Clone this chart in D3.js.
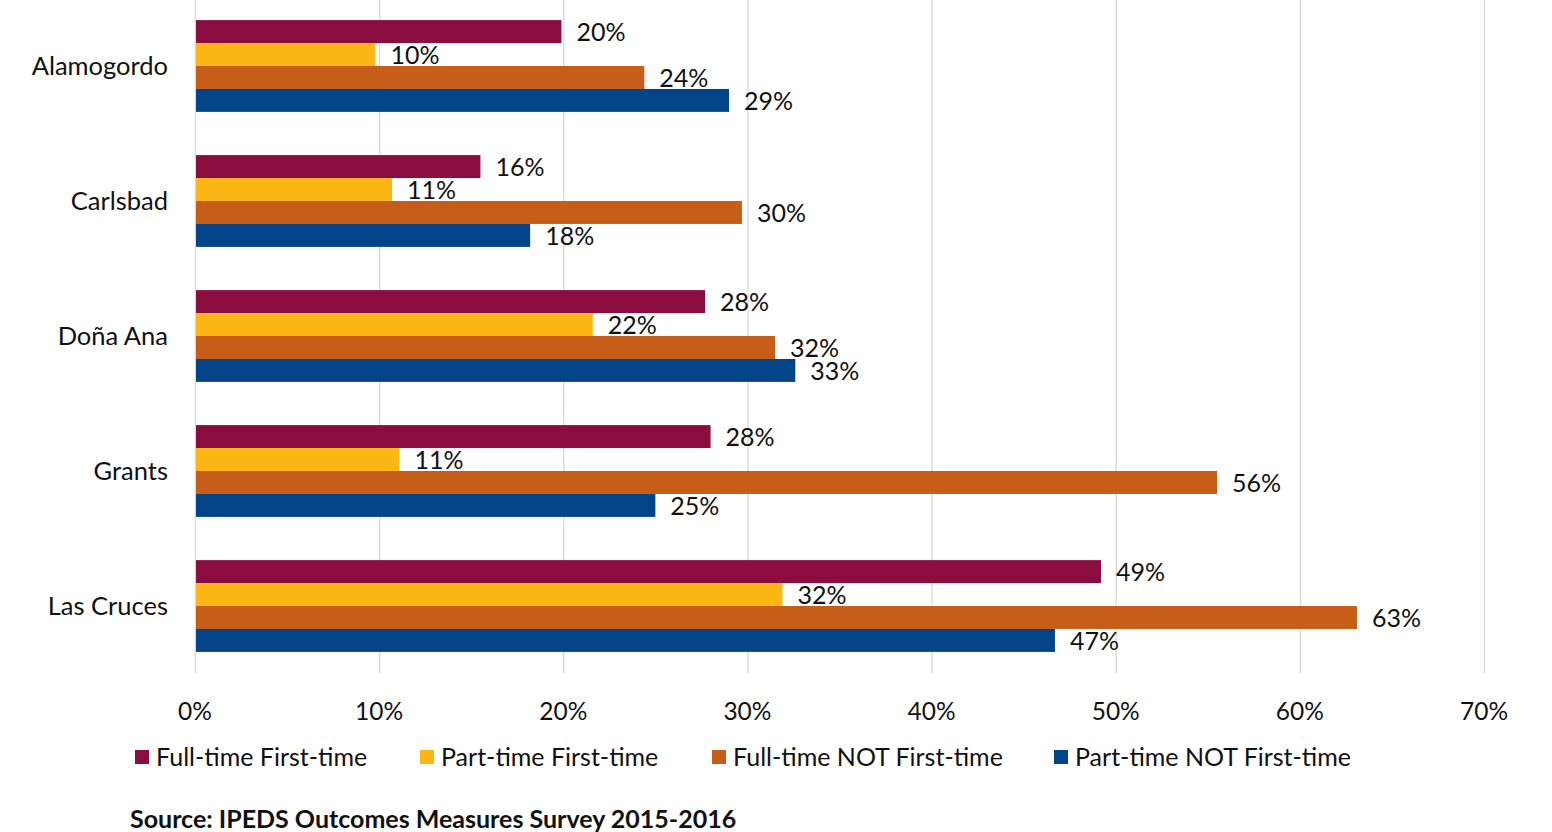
<!DOCTYPE html>
<html>
<head>
<meta charset="utf-8">
<script src="https://cdn.jsdelivr.net/npm/d3@7"></script>
<style>
  body { margin: 0; background: #fff; }
  svg text { font-family: Lato, "Open Sans", sans-serif; fill: #111; }
</style>
</head>
<body>
<svg width="1552" height="832"></svg>
<script>
// campuses, top to bottom
const campuses = ["Alamogordo", "Carlsbad", "Doña Ana", "Grants", "Las Cruces"];
const seriesNames = ["Full-time First-time", "Part-time First-time", "Full-time NOT First-time", "Part-time NOT First-time"];
const colors = ["#8b0d40", "#fdb714", "#c65e1a", "#034488"];

// rates in percent, one array per series
const fullFirst = [19.9, 15.5, 27.7, 28.0, 49.2];
const partFirst = [9.8, 10.7, 21.6, 11.1, 31.9];
const fullNotFirst = [24.4, 29.7, 31.5, 55.5, 63.1];
const partNotFirst = [29.0, 18.2, 32.6, 25.0, 46.7];
const tickValues = [0, 10, 20, 30, 40, 50, 60, 70];

const series = [fullFirst, partFirst, fullNotFirst, partNotFirst];

const svg = d3.select("svg");

const x = d3.scaleLinear().domain([0, 70]).range([195, 1484]);

const y = d3
  .scaleBand()
  .domain(campuses)
  .range([-1.5, 673.5])
  .paddingInner(0.32)
  .paddingOuter(0.16);

const ySub = d3
  .scaleBand()
  .domain(d3.range(series.length))
  .range([0, y.bandwidth()]);

// gridlines (0% one doubles as the axis line)
svg
  .append("g")
  .selectAll("line")
  .data(tickValues)
  .enter()
  .append("line")
  .attr("x1", d => x(d) + 0.5)
  .attr("x2", d => x(d) + 0.5)
  .attr("y1", 0)
  .attr("y2", 673)
  .attr("stroke", "#d9d9d9")
  .attr("stroke-width", 1.3);

// tick labels
svg
  .append("g")
  .selectAll("text")
  .data(tickValues)
  .enter()
  .append("text")
  .attr("x", d => x(d))
  .attr("y", 720)
  .attr("text-anchor", "middle")
  .attr("font-size", 24.5)
  .text(d => d + "%");

// category labels
svg
  .append("g")
  .selectAll("text")
  .data(campuses)
  .enter()
  .append("text")
  .attr("x", 168)
  .attr("y", d => y(d) + y.bandwidth() / 2 + 9)
  .attr("text-anchor", "end")
  .attr("font-size", 25.5)
  .text(d => d);

// bars + value labels
const groups = svg
  .append("g")
  .selectAll("g")
  .data(series)
  .enter()
  .append("g");

groups
  .selectAll("rect")
  .data((vals, i) => vals.map((v, j) => ({ v, i, c: campuses[j] })))
  .enter()
  .append("rect")
  .attr("x", x(0) + 1)
  .attr("y", d => y(d.c) + ySub(d.i))
  .attr("width", d => x(d.v) - x(0) - 1)
  .attr("height", ySub.bandwidth())
  .attr("fill", d => colors[d.i]);

groups
  .selectAll("text")
  .data((vals, i) => vals.map((v, j) => ({ v, i, c: campuses[j] })))
  .enter()
  .append("text")
  .attr("x", d => x(d.v) + 15)
  .attr("y", d => y(d.c) + ySub(d.i) + ySub.bandwidth() / 2 + 9.5)
  .attr("font-size", 25)
  .text(d => Math.round(d.v) + "%");

// legend
const legendX = [135, 420, 712, 1054];
const legend = svg
  .append("g")
  .selectAll("g")
  .data(seriesNames)
  .enter()
  .append("g")
  .attr("transform", (d, i) => `translate(${legendX[i]},750)`);

legend
  .append("rect")
  .attr("width", 14)
  .attr("height", 14)
  .attr("fill", (d, i) => colors[i]);

legend
  .append("text")
  .attr("x", 21)
  .attr("y", 16)
  .attr("font-size", 25)
  .text(d => d);

// source note
svg
  .append("text")
  .attr("x", 130)
  .attr("y", 828)
  .attr("font-size", 25)
  .attr("font-weight", "bold")
  .text("Source: IPEDS Outcomes Measures Survey 2015-2016");
</script>
</body>
</html>
